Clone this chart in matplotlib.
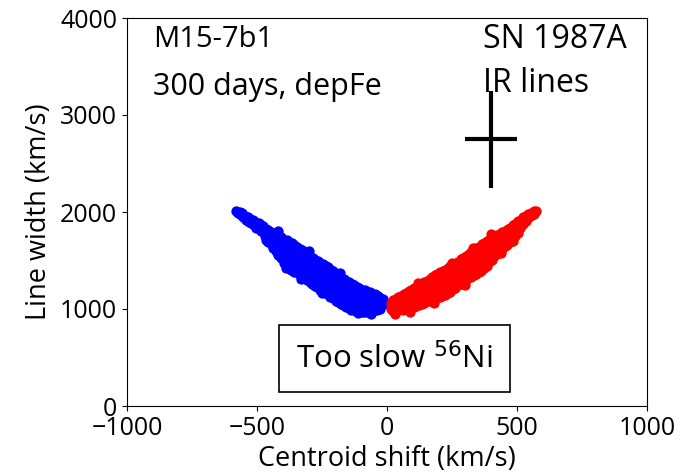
import matplotlib
matplotlib.use("Agg")
import matplotlib.pyplot as plt

plt.rcParams['font.family'] = ['Open Sans', 'DejaVu Sans']

blue_x = [-580, -572, -566, -563, -556, -553, -546, -543, -536, -532, -526, -522, -515, -512,
          -506, -503, -494, -497, -486, -483, -476, -474, -471, -466, -463, -467, -456, -453,
          -458, -446, -444, -442, -436, -433, -437, -426, -424, -427, -416, -413, -418, -406,
          -403, -408, -396, -393, -398, -386, -383, -388, -376, -372, -378, -366, -363, -368,
          -356, -352, -358, -346, -343, -348, -336, -333, -338, -326, -322, -328, -316, -313,
          -318, -306, -303, -308, -296, -292, -298, -286, -283, -288, -276, -272, -278, -266,
          -263, -268, -256, -253, -258, -246, -242, -248, -236, -233, -238, -226, -222, -228,
          -216, -213, -218, -206, -203, -208, -196, -192, -198, -186, -183, -188, -176, -172,
          -178, -166, -163, -168, -156, -152, -158, -146, -143, -148, -136, -132, -138, -126,
          -123, -128, -116, -112, -118, -106, -103, -108, -96, -92, -98, -86, -83, -88, -76,
          -72, -78, -66, -63, -68, -56, -52, -58, -46, -43, -48, -36, -32, -38, -26, -22, -28,
          -16, -12,
          -450, -430, -410, -390, -370, -350, -330, -310, -290, -270, -250, -230, -210, -190,
          -170, -150, -130, -110, -90, -70, -50, -30,
          -440, -420, -400, -380, -360, -340, -320, -300, -280, -260, -240, -220, -200, -180,
          -160, -140, -120, -100, -80, -60, -40,
          -420, -300, -180, -390, -250, -140, -60, -330, -110]
blue_y = [2010, 1990, 2005, 1970, 1988, 1948, 1962, 1922, 1948, 1898, 1925, 1884, 1915, 1862,
          1898, 1838, 1888, 1830, 1868, 1806, 1852, 1785, 1752, 1826, 1772, 1716, 1812, 1740,
          1688, 1798, 1718, 1662, 1776, 1702, 1628, 1768, 1676, 1598, 1748, 1658, 1556, 1738,
          1628, 1522, 1716, 1612, 1478, 1708, 1586, 1452, 1686, 1572, 1418, 1682, 1540, 1402,
          1656, 1522, 1386, 1642, 1498, 1382, 1618, 1484, 1356, 1604, 1456, 1342, 1576, 1442,
          1318, 1562, 1416, 1302, 1536, 1404, 1276, 1522, 1378, 1262, 1502, 1362, 1236, 1494,
          1336, 1224, 1472, 1322, 1196, 1462, 1298, 1188, 1442, 1288, 1166, 1428, 1266, 1152,
          1402, 1254, 1126, 1388, 1232, 1112, 1362, 1224, 1086, 1348, 1202, 1072, 1322, 1194,
          1052, 1308, 1166, 1042, 1286, 1154, 1022, 1278, 1126, 1012, 1256, 1118, 998, 1248,
          1096, 992, 1226, 1092, 982, 1218, 1076, 984, 1196, 1072, 972, 1192, 1056, 968, 1176,
          1052, 972, 1172, 1042, 976, 1156, 1044, 978, 1152, 1026, 988, 1136, 1034, 986, 1118,
          1044, 1002, 1098, 1052,
          1772, 1728, 1706, 1652, 1632, 1582, 1552, 1498, 1476, 1422, 1402, 1358, 1332, 1284,
          1262, 1208, 1190, 1154, 1140, 1104, 1098, 1080,
          1672, 1638, 1562, 1522, 1462, 1448, 1392, 1368, 1314, 1292, 1238, 1218, 1168, 1146,
          1098, 1076, 1040, 1034, 1012, 1016, 1002,
          1800, 1600, 1370, 1420, 1160, 985, 945, 1310, 960]

red_x = [14, 16, 24, 27, 22, 35, 37, 44, 47, 43, 54, 57, 53, 64, 67, 63, 74, 77, 73, 84, 87, 83,
         94, 97, 93, 104, 107, 103, 114, 117, 113, 124, 127, 123, 134, 137, 133, 144, 147, 143,
         154, 157, 153, 164, 167, 163, 174, 177, 173, 184, 187, 183, 194, 197, 193, 204, 207, 203,
         214, 217, 213, 224, 227, 223, 234, 237, 233, 244, 247, 243, 254, 257, 253, 264, 267, 263,
         274, 277, 273, 284, 287, 283, 294, 297, 293, 304, 307, 303, 314, 317, 313, 324, 327, 323,
         334, 337, 333, 344, 347, 343, 354, 357, 353, 364, 367, 363, 374, 377, 373, 384, 387, 383,
         394, 397, 393, 404, 407, 403, 414, 417, 413, 424, 427, 423, 434, 437, 433, 444, 447, 443,
         454, 457, 453, 464, 467, 463, 474, 477, 473, 484, 487, 483, 494, 497, 493, 504, 507, 503,
         514, 517, 513, 524, 527, 523, 534, 537, 533, 544, 547, 554, 557, 564, 566, 572,
         30, 50, 70, 90, 110, 130, 150, 170, 190, 210, 230, 250, 270, 290, 310, 330, 350, 370,
         390, 410, 430, 450, 470, 490,
         40, 60, 80, 100, 120, 140, 160, 180, 200, 220, 240, 260, 280, 300, 320, 340, 360, 380,
         400, 420, 440, 460, 480, 500,
         120, 250, 400, 330, 180, 300, 440, 90, 30]
red_y = [1062, 1002, 1094, 1028, 984, 1098, 1012, 1124, 1048, 992, 1138, 1072, 1002, 1158, 1078,
         994, 1168, 1094, 1006, 1188, 1098, 998, 1198, 1114, 1012, 1218, 1122, 1018, 1228, 1144,
         1032, 1248, 1148, 1038, 1258, 1168, 1052, 1282, 1178, 1058, 1292, 1198, 1078, 1314, 1206,
         1082, 1328, 1228, 1098, 1348, 1236, 1102, 1358, 1258, 1118, 1378, 1266, 1122, 1388, 1288,
         1138, 1404, 1296, 1142, 1418, 1314, 1164, 1444, 1326, 1176, 1452, 1348, 1204, 1474, 1356,
         1216, 1488, 1384, 1244, 1514, 1396, 1256, 1522, 1424, 1284, 1548, 1436, 1296, 1562, 1464,
         1318, 1588, 1476, 1326, 1602, 1504, 1348, 1628, 1512, 1356, 1642, 1534, 1378, 1668, 1546,
         1392, 1682, 1574, 1424, 1704, 1586, 1446, 1712, 1614, 1484, 1734, 1626, 1506, 1742, 1654,
         1544, 1764, 1666, 1566, 1772, 1694, 1604, 1794, 1706, 1622, 1802, 1738, 1648, 1824, 1756,
         1662, 1836, 1784, 1688, 1864, 1796, 1706, 1876, 1834, 1754, 1904, 1856, 1786, 1916, 1888,
         1834, 1944, 1906, 1872, 1956, 1938, 1906, 1978, 1952, 1986, 1972, 2008, 1984, 2014,
         1052, 1104, 1118, 1162, 1172, 1214, 1232, 1282, 1296, 1342, 1356, 1408, 1426, 1478,
         1496, 1556, 1576, 1636, 1652, 1702, 1722, 1776, 1796, 1858,
         1024, 1028, 1052, 1058, 1098, 1104, 1148, 1158, 1198, 1208, 1254, 1272, 1328, 1352,
         1402, 1418, 1468, 1498, 1568, 1602, 1668, 1694, 1752, 1808,
         1270, 1470, 1770, 1630, 1060, 1250, 1580, 965, 950]

obs_x, obs_y = [400], [2750]
obs_xerr, obs_yerr = [100], [500]

fig = plt.figure(figsize=(6.85, 4.76), dpi=100)
ax = fig.add_axes([127/685, 1-406/476, (647-127)/685, (406-18)/476])

ax.scatter(blue_x, blue_y, s=55, color='blue', linewidths=0, zorder=2)
ax.scatter(red_x, red_y, s=55, color='red', linewidths=0, zorder=2)
ax.errorbar(obs_x, obs_y, xerr=obs_xerr, yerr=obs_yerr, fmt='none', ecolor='black',
            elinewidth=3, capsize=0, zorder=3)

ax.set_xlim(-1000, 1000)
ax.set_ylim(0, 4000)
ax.set_xticks([-1000, -500, 0, 500, 1000])
ax.set_yticks([0, 1000, 2000, 3000, 4000])
ax.tick_params(labelsize=18)
ax.set_xlabel('Centroid shift (km/s)', fontsize=19.5, labelpad=3)
ax.set_ylabel('Line width (km/s)', fontsize=19.5, labelpad=5)

ax.text(-900, 3700, 'M15-7b1', fontsize=21)
ax.text(-900, 3205, '300 days, depFe', fontsize=22)
ax.text(369, 3690, 'SN 1987A', fontsize=23)
ax.text(369, 3237, 'IR lines', fontsize=23)
ax.text(29, 486, r'Too slow $^{56}$Ni', fontsize=22.5, ha='center', va='center',
        bbox=dict(boxstyle='square,pad=0.55', facecolor='white', edgecolor='black', linewidth=1.2))

fig.savefig('out.png', dpi=100)
